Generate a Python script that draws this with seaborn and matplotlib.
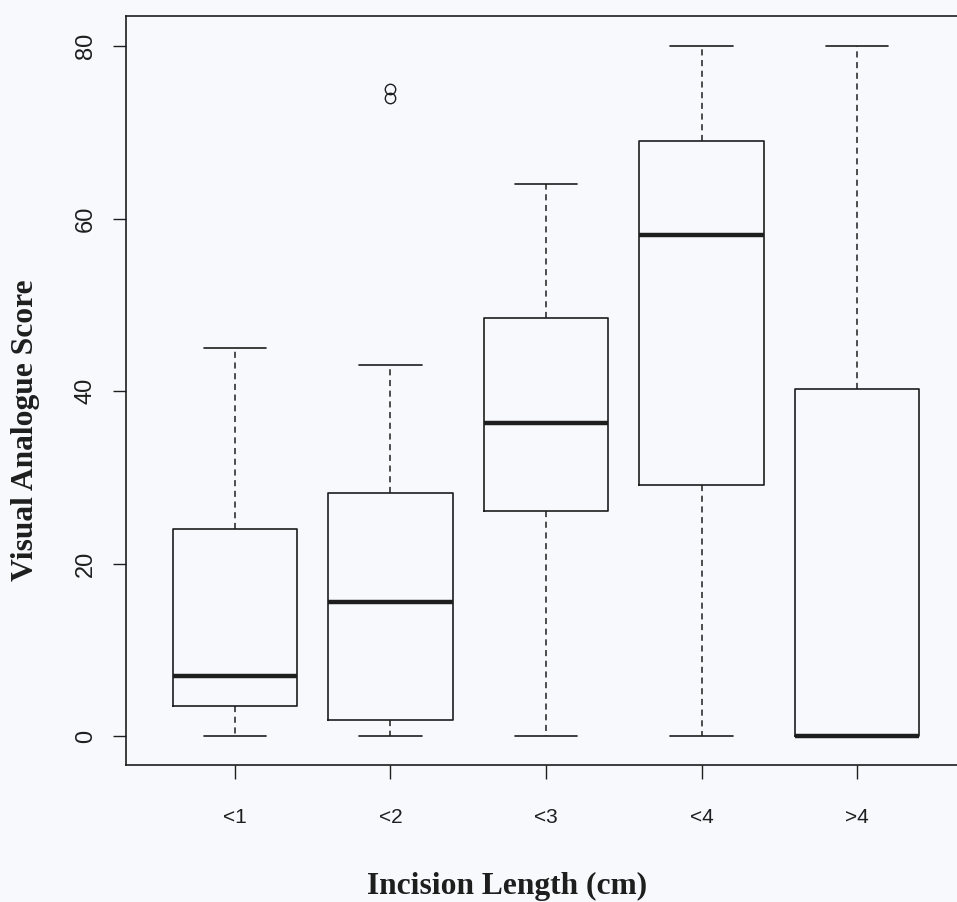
import numpy as np
import pandas as pd
import matplotlib
matplotlib.use("Agg")
import matplotlib.pyplot as plt
import seaborn as sns

# Categories (incision length groups)
categories = ["<1", "<2", "<3", "<4", ">4"]

# Values (min, quartiles, median, max, outliers)
vas_lt1 = [0, 3.5, 7, 24, 45]
vas_lt2 = [0, 0, 1.9, 1.9, 15.6, 15.6, 15.6, 28.2, 28.2, 28.2, 43, 74, 75]
vas_lt3 = [0, 26.1, 36.3, 48.5, 64]
vas_lt4 = [0, 29.1, 58.1, 69.0, 80]
vas_gt4 = [0, 0, 0, 40.2, 80]

y_ticks = [0, 20, 40, 60, 80]

groups = [vas_lt1, vas_lt2, vas_lt3, vas_lt4, vas_gt4]
df = pd.DataFrame({
    "Incision Length (cm)": np.concatenate([[c] * len(g) for c, g in zip(categories, groups)]),
    "Visual Analogue Score": np.concatenate(groups).astype(float),
})

sns.set_style("ticks")
plt.rcParams["font.family"] = ["Liberation Sans", "DejaVu Sans"]

bg = "#f8f9fc"
ink = "#1e1e1e"

fig = plt.figure(figsize=(9.57, 9.02), dpi=100, facecolor=bg)
ax = fig.add_axes([126 / 957, 1 - 765 / 902, 840 / 957, 749 / 902])
ax.set_facecolor(bg)

sns.boxplot(
    data=df, x="Incision Length (cm)", y="Visual Analogue Score",
    order=categories, fill=False, width=0.8, whis=1.5,
    linecolor=ink, linewidth=1.2, ax=ax,
    boxprops=dict(color=ink, linewidth=1.2),
    medianprops=dict(color=ink, linewidth=3.2, solid_capstyle="butt"),
    whiskerprops=dict(color=ink, linewidth=1.1, linestyle=(0, (4, 3))),
    capprops=dict(color=ink, linewidth=1.2),
    flierprops=dict(marker="o", markersize=7.5, markerfacecolor="none",
                    markeredgecolor=ink, markeredgewidth=1.0),
)

ax.set_xlim(-0.7, 4.7)
ax.set_ylim(-3.36, 83.5)
ax.set_yticks(y_ticks)
ax.set_yticklabels([str(v) for v in y_ticks], rotation=90, va="center",
                   fontsize=17, color=ink)
ax.tick_params(axis="y", length=9.4, width=1.0, pad=11.5, colors=ink)
ax.tick_params(axis="x", length=10, width=1.0, pad=21, colors=ink, labelsize=15)

for side in ["left", "bottom", "top", "right"]:
    ax.spines[side].set_visible(True)
    ax.spines[side].set_color(ink)
    ax.spines[side].set_linewidth(1.2)

ax.set_xlabel("")
ax.set_ylabel("")
fig.text(507 / 957, 1 - 894 / 902, "Incision Length (cm)", ha="center", va="baseline",
         fontsize=22.7, fontweight="bold", family=["Liberation Serif", "DejaVu Serif"], color=ink)
fig.text(11 / 957, 1 - 430 / 902, "Visual Analogue Score", ha="left", va="center",
         rotation=90, fontsize=22.7, fontweight="bold",
         family=["Liberation Serif", "DejaVu Serif"], color=ink)

fig.savefig("out.png", dpi=100, facecolor=bg)
